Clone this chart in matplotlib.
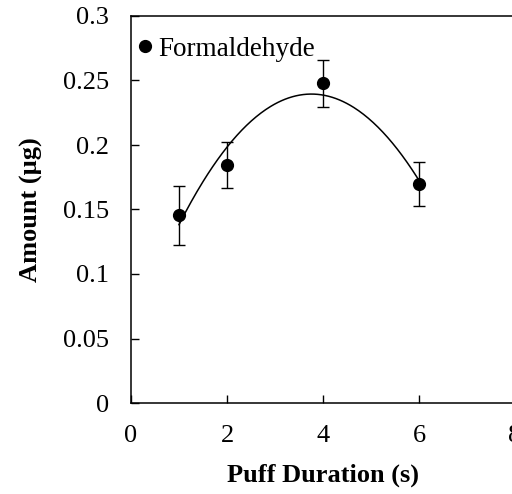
import numpy as np
import matplotlib
matplotlib.use('Agg')
import matplotlib.pyplot as plt
from matplotlib.lines import Line2D

# Formaldehyde amount vs puff duration
puff_duration = [1, 2, 4, 6]
amount = [0.1455, 0.1847, 0.2478, 0.1698]
amount_err = [0.023, 0.018, 0.018, 0.017]

x_ticks = [0, 2, 4, 6, 8]
y_ticks = [0, 0.05, 0.1, 0.15, 0.2, 0.25, 0.3]
y_tick_labels = ['0', '0.05', '0.1', '0.15', '0.2', '0.25', '0.3']


def main():
    plt.rcParams['font.family'] = ['Liberation Serif', 'DejaVu Serif']

    fig = plt.figure(figsize=(5.12, 4.94), dpi=100)
    ax = fig.add_axes([131/512, 91/494, 384/512, 387/494])

    #Quadratic trend line through the measured points.
    coeffs = np.polyfit(puff_duration, amount, 2)
    x_fit = np.linspace(min(puff_duration), max(puff_duration), 200)
    ax.plot(x_fit, np.polyval(coeffs, x_fit), color='black', lw=1.1)

    ax.errorbar(puff_duration, amount, yerr=amount_err, fmt='o', color='black',
                ms=8.5, ecolor='black', elinewidth=1, capsize=4.5, capthick=1)

    ax.set_xlim(0, 8)
    ax.set_ylim(0, 0.3)
    ax.set_xticks(x_ticks)
    ax.set_yticks(y_ticks)
    ax.set_yticklabels(y_tick_labels)
    ax.tick_params(direction='in', length=5.5, width=1, labelsize=19)
    ax.tick_params(axis='y', pad=16)
    ax.tick_params(axis='x', pad=16)
    for s in ax.spines.values():
        s.set_linewidth(1.1)

    ax.set_xlabel('Puff Duration (s)', fontsize=19, fontweight='bold', labelpad=12)
    ax.set_ylabel('Amount (µg)', fontsize=19, fontweight='bold', labelpad=14)

    #Legend shows only the marker, like the spreadsheet version.
    handle = Line2D([], [], marker='o', color='black', ls='none', ms=8.5)
    ax.legend([handle], ['Formaldehyde'], loc='upper left', frameon=False, fontsize=19.5,
              handlelength=0.5, handletextpad=0.25, bbox_to_anchor=(-0.01, 0.975),
              borderaxespad=0.2, borderpad=0.2)

    fig.savefig('out.png', dpi=100)


if __name__ == "__main__":
    main()
